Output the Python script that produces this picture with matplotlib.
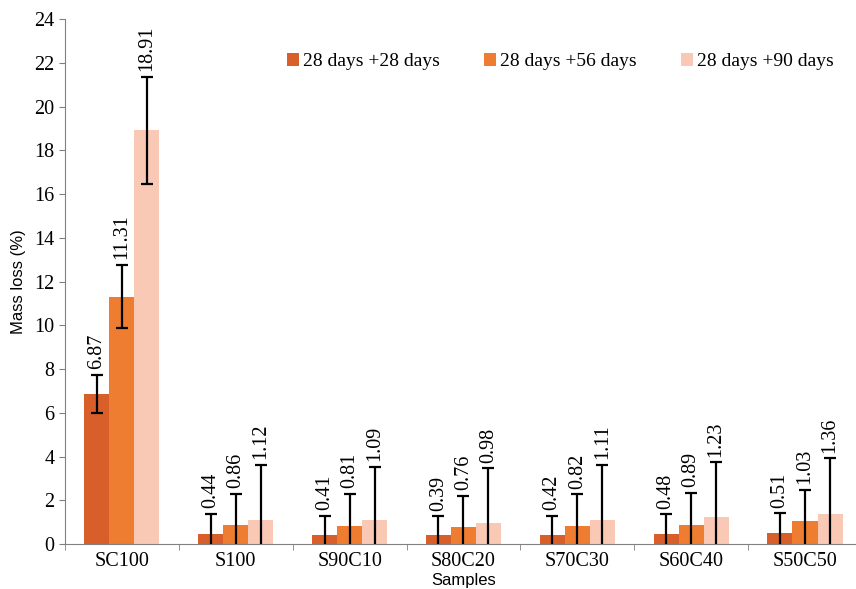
import matplotlib
matplotlib.use("Agg")
import matplotlib.pyplot as plt
import numpy as np

# data
samples = ["SC100", "S100", "S90C10", "S80C20", "S70C30", "S60C40", "S50C50"]
series_names = ["28 days +28 days", "28 days +56 days", "28 days +90 days"]
loss_28 = [6.87, 0.44, 0.41, 0.39, 0.42, 0.48, 0.51]
loss_56 = [11.31, 0.86, 0.81, 0.76, 0.82, 0.89, 1.03]
loss_90 = [18.91, 1.12, 1.09, 0.98, 1.11, 1.23, 1.36]
err_28 = [0.87, 0.93, 0.87, 0.87, 0.87, 0.88, 0.89]
err_56 = [1.45, 1.43, 1.48, 1.45, 1.45, 1.45, 1.44]
err_90 = [2.45, 2.49, 2.44, 2.48, 2.52, 2.50, 2.56]

colors = ["#D95F2A", "#EE7D31", "#F9C9B6"]
serif = "Liberation Serif"
sans = "Liberation Sans"

fig = plt.figure(figsize=(8.56, 5.89), dpi=100)
ax = fig.add_axes([0.0759, 0.0764, 0.931, 0.8913])

x = np.arange(len(samples))
width = 0.22
values = [loss_28, loss_56, loss_90]
errors = [err_28, err_56, err_90]

for i, (vals, errs) in enumerate(zip(values, errors)):
    pos = x + (i - 1) * width
    ax.bar(pos, vals, width, color=colors[i], label=series_names[i], zorder=2)
    ax.errorbar(pos, vals, yerr=errs, fmt="none", ecolor="black",
                elinewidth=1.6, capsize=4.5, capthick=1.6, zorder=3)
    # value labels, rotated, above the error cap
    for xp, v, e in zip(pos, vals, errs):
        ax.annotate(f"{v:.2f}", (xp, v + e), xytext=(0, 4),
                    textcoords="offset points", rotation=90,
                    ha="center", va="bottom", fontsize=14.5, family=serif)

ax.set_xlim(-0.5, len(samples) - 0.5)
ax.set_ylim(0, 24)
ax.set_yticks(np.arange(0, 25, 2))
ax.set_xticks(x)
ax.set_xticklabels(samples, fontsize=14.5, family=serif)
ax.set_xticks(np.arange(-0.5, len(samples), 1), minor=True)
ax.tick_params(axis="x", which="major", length=0, pad=6)
ax.tick_params(axis="x", which="minor", length=4, color="#808080")
ax.tick_params(axis="y", length=4, color="#808080", labelsize=14.5)
for lbl in ax.get_yticklabels():
    lbl.set_family(serif)

for side in ["top", "right"]:
    ax.spines[side].set_visible(False)
for side in ["left", "bottom"]:
    ax.spines[side].set_color("#808080")

ax.set_ylabel("Mass loss (%)", fontsize=12, family=sans, labelpad=6)
ax.set_xlabel("Samples", fontsize=12, family=sans, labelpad=1)

ax.legend(loc="center left", bbox_to_anchor=(0.315, 0.895), bbox_transform=fig.transFigure,
          ncol=3, frameon=False, prop={"family": serif, "size": 14},
          handlelength=0.6, handleheight=0.6, handletextpad=0.2, columnspacing=2.3)

fig.savefig("out.png", dpi=100)
